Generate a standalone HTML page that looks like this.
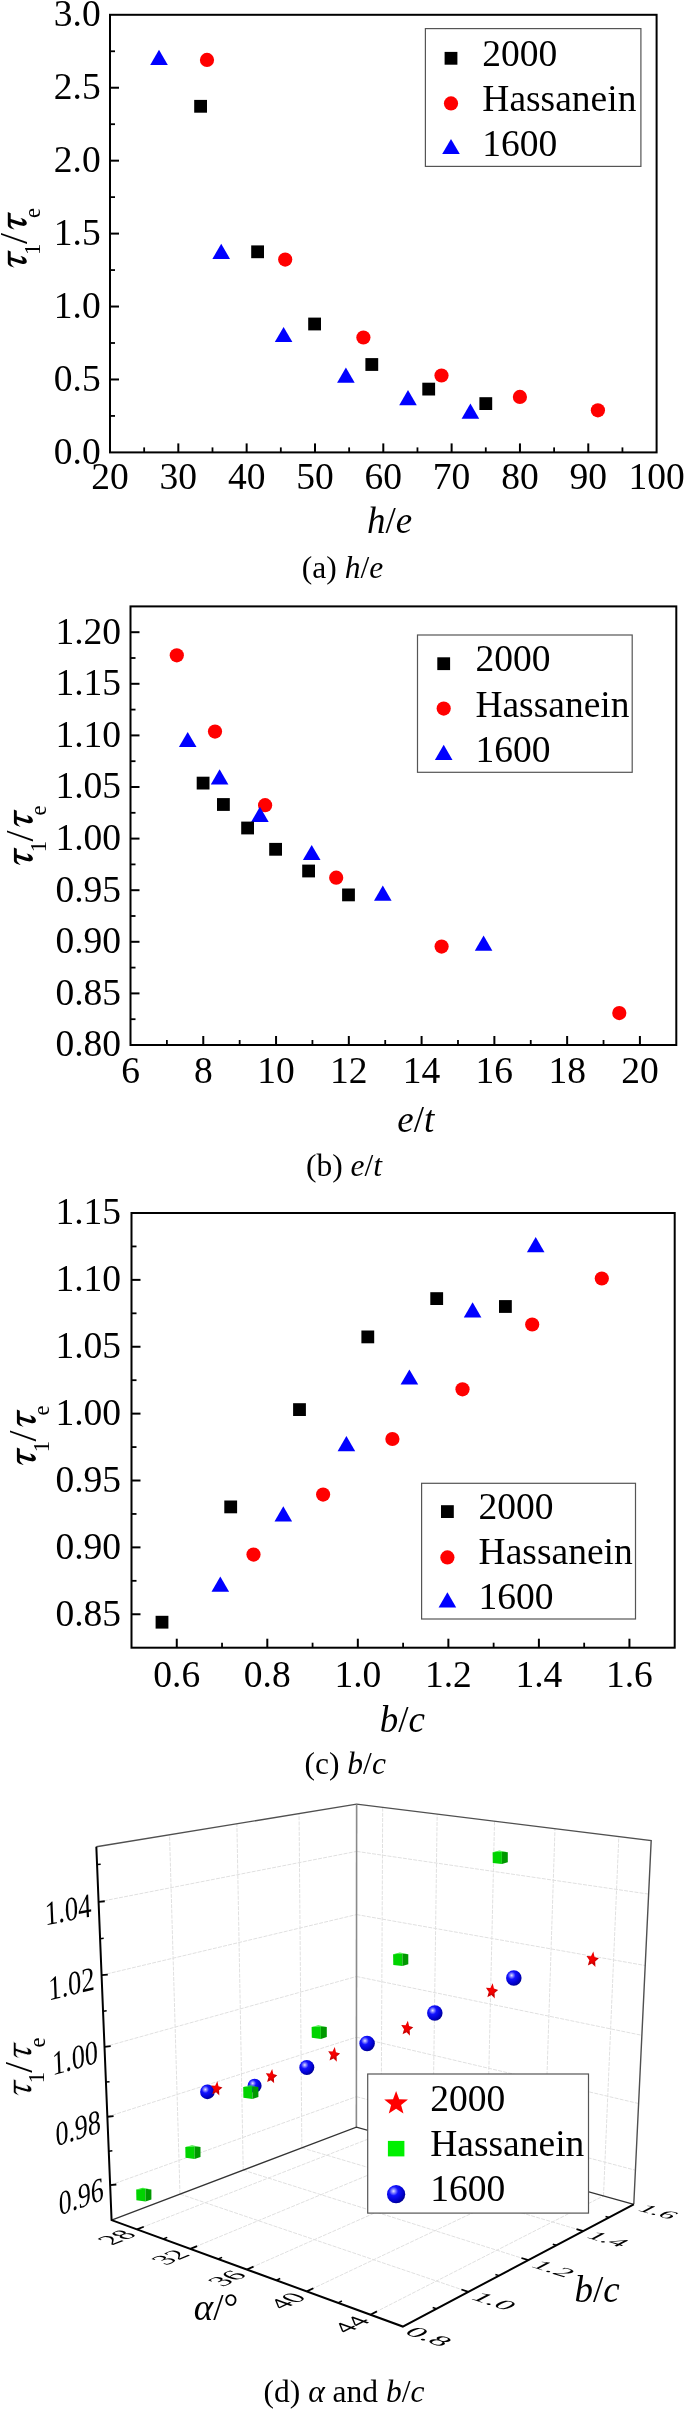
<!DOCTYPE html>
<html><head><meta charset="utf-8"><style>
html,body{margin:0;padding:0;background:#fff;}
body{width:685px;height:2411px;overflow:hidden;font-family:"Liberation Serif",serif;}
svg{display:block;will-change:transform;}
text{font-family:"Liberation Serif",serif;fill:#000;}
</style></head><body>
<svg width="685" height="2411" viewBox="0 0 685 2411" font-family="Liberation Serif, serif"><defs>
<radialGradient id="sph" cx="0.36" cy="0.34" r="0.78" fx="0.36" fy="0.33"><stop offset="0" stop-color="#e4e4ff"/><stop offset="0.12" stop-color="#9090ff"/><stop offset="0.32" stop-color="#1212ff"/><stop offset="0.68" stop-color="#0000cc"/><stop offset="1" stop-color="#000070"/></radialGradient>
<radialGradient id="star" cx="0.45" cy="0.4" r="0.6"><stop offset="0" stop-color="#ff0000"/><stop offset="0.5" stop-color="#e80000"/><stop offset="0.75" stop-color="#b80000"/><stop offset="1" stop-color="#ff1010"/></radialGradient>
</defs>
<line x1="178.32" y1="452.4" x2="178.32" y2="443.4" stroke="#000" stroke-width="2" />
<line x1="246.65" y1="452.4" x2="246.65" y2="443.4" stroke="#000" stroke-width="2" />
<line x1="314.98" y1="452.4" x2="314.98" y2="443.4" stroke="#000" stroke-width="2" />
<line x1="383.3" y1="452.4" x2="383.3" y2="443.4" stroke="#000" stroke-width="2" />
<line x1="451.62" y1="452.4" x2="451.62" y2="443.4" stroke="#000" stroke-width="2" />
<line x1="519.95" y1="452.4" x2="519.95" y2="443.4" stroke="#000" stroke-width="2" />
<line x1="588.28" y1="452.4" x2="588.28" y2="443.4" stroke="#000" stroke-width="2" />
<line x1="144.16" y1="452.4" x2="144.16" y2="447.4" stroke="#000" stroke-width="1.8" />
<line x1="212.49" y1="452.4" x2="212.49" y2="447.4" stroke="#000" stroke-width="1.8" />
<line x1="280.81" y1="452.4" x2="280.81" y2="447.4" stroke="#000" stroke-width="1.8" />
<line x1="349.14" y1="452.4" x2="349.14" y2="447.4" stroke="#000" stroke-width="1.8" />
<line x1="417.46" y1="452.4" x2="417.46" y2="447.4" stroke="#000" stroke-width="1.8" />
<line x1="485.79" y1="452.4" x2="485.79" y2="447.4" stroke="#000" stroke-width="1.8" />
<line x1="554.11" y1="452.4" x2="554.11" y2="447.4" stroke="#000" stroke-width="1.8" />
<line x1="622.44" y1="452.4" x2="622.44" y2="447.4" stroke="#000" stroke-width="1.8" />
<line x1="110" y1="379.47" x2="119" y2="379.47" stroke="#000" stroke-width="2" />
<line x1="110" y1="306.53" x2="119" y2="306.53" stroke="#000" stroke-width="2" />
<line x1="110" y1="233.6" x2="119" y2="233.6" stroke="#000" stroke-width="2" />
<line x1="110" y1="160.67" x2="119" y2="160.67" stroke="#000" stroke-width="2" />
<line x1="110" y1="87.73" x2="119" y2="87.73" stroke="#000" stroke-width="2" />
<line x1="110" y1="415.93" x2="115" y2="415.93" stroke="#000" stroke-width="1.8" />
<line x1="110" y1="343" x2="115" y2="343" stroke="#000" stroke-width="1.8" />
<line x1="110" y1="270.07" x2="115" y2="270.07" stroke="#000" stroke-width="1.8" />
<line x1="110" y1="197.13" x2="115" y2="197.13" stroke="#000" stroke-width="1.8" />
<line x1="110" y1="124.2" x2="115" y2="124.2" stroke="#000" stroke-width="1.8" />
<line x1="110" y1="51.27" x2="115" y2="51.27" stroke="#000" stroke-width="1.8" />
<rect x="110" y="14.8" width="546.6" height="437.6" fill="none" stroke="#000" stroke-width="2"/>
<text x="110" y="489.2" font-size="37.5" text-anchor="middle"  >20</text>
<text x="178.32" y="489.2" font-size="37.5" text-anchor="middle"  >30</text>
<text x="246.65" y="489.2" font-size="37.5" text-anchor="middle"  >40</text>
<text x="314.98" y="489.2" font-size="37.5" text-anchor="middle"  >50</text>
<text x="383.3" y="489.2" font-size="37.5" text-anchor="middle"  >60</text>
<text x="451.62" y="489.2" font-size="37.5" text-anchor="middle"  >70</text>
<text x="519.95" y="489.2" font-size="37.5" text-anchor="middle"  >80</text>
<text x="588.28" y="489.2" font-size="37.5" text-anchor="middle"  >90</text>
<text x="656.6" y="489.2" font-size="37.5" text-anchor="middle"  >100</text>
<text x="100.7" y="463.8" font-size="37.5" text-anchor="end"  >0.0</text>
<text x="100.7" y="390.87" font-size="37.5" text-anchor="end"  >0.5</text>
<text x="100.7" y="317.93" font-size="37.5" text-anchor="end"  >1.0</text>
<text x="100.7" y="245" font-size="37.5" text-anchor="end"  >1.5</text>
<text x="100.7" y="172.07" font-size="37.5" text-anchor="end"  >2.0</text>
<text x="100.7" y="99.13" font-size="37.5" text-anchor="end"  >2.5</text>
<text x="100.7" y="26.2" font-size="37.5" text-anchor="end"  >3.0</text>
<polygon points="150.2,64.9 167.8,64.9 159,49.7" fill="#00f"/>
<polygon points="212.4,258.9 230,258.9 221.2,243.7" fill="#00f"/>
<polygon points="274.8,342.1 292.4,342.1 283.6,326.9" fill="#00f"/>
<polygon points="337.1,382.7 354.7,382.7 345.9,367.5" fill="#00f"/>
<polygon points="399.2,405.2 416.8,405.2 408,390" fill="#00f"/>
<polygon points="461.6,418.7 479.2,418.7 470.4,403.5" fill="#00f"/>
<rect x="194.2" y="99.9" width="12.8" height="12.8" fill="#000"/>
<rect x="251.2" y="245.4" width="12.8" height="12.8" fill="#000"/>
<rect x="308.2" y="317.6" width="12.8" height="12.8" fill="#000"/>
<rect x="365.4" y="358.1" width="12.8" height="12.8" fill="#000"/>
<rect x="422.3" y="382.7" width="12.8" height="12.8" fill="#000"/>
<rect x="479.4" y="397.2" width="12.8" height="12.8" fill="#000"/>
<circle cx="207" cy="59.9" r="7.1" fill="#f00"/>
<circle cx="285.2" cy="259.6" r="7.1" fill="#f00"/>
<circle cx="363.4" cy="337.5" r="7.1" fill="#f00"/>
<circle cx="441.5" cy="375.5" r="7.1" fill="#f00"/>
<circle cx="519.9" cy="396.9" r="7.1" fill="#f00"/>
<circle cx="597.9" cy="410.3" r="7.1" fill="#f00"/>
<rect x="425.4" y="28.6" width="215.5" height="137.8" fill="#fff" stroke="#555" stroke-width="1.2"/>
<rect x="444.6" y="51.9" width="12.8" height="12.8" fill="#000"/>
<circle cx="451" cy="103.4" r="7.1" fill="#f00"/>
<polygon points="442.2,154.1 459.8,154.1 451,138.9" fill="#00f"/>
<text x="482.3" y="65.5" font-size="37.5" text-anchor="start"  >2000</text>
<text x="482.3" y="110.7" font-size="37.5" text-anchor="start"  >Hassanein</text>
<text x="482.3" y="155.8" font-size="37.5" text-anchor="start"  >1600</text>
<text x="389.5" y="532.9" font-size="37" text-anchor="middle"><tspan font-style="italic">h</tspan>/<tspan font-style="italic">e</tspan></text>
<text x="342.5" y="577.5" font-size="31.5" text-anchor="middle">(a) <tspan font-style="italic">h</tspan>/<tspan font-style="italic">e</tspan></text>
<g transform="translate(27.20,267.50) rotate(-90)"><path transform="translate(-0.30,0) scale(1.0000)" d="M17.6,-19.4 L16.4,-16.5 L10.6,-16.5 C9.6,-13 8.2,-8.5 7.1,-4.6 C8.6,-4.4 10.6,-5.3 11.8,-6.8 C11.6,-4.2 9.6,-0.4 6.6,-0.4 C4.7,-0.4 3.5,-2 3.9,-4.6 C4.6,-8.5 6.1,-12.8 7.5,-16.5 L4.6,-16.5 C3.2,-16.2 1.8,-14.6 0.4,-12.6 C0.9,-15.8 2.4,-19.4 4.8,-19.4 Z"/><text x="12.60" y="12.50" font-size="22.5">1</text><text x="23.50" y="0" font-size="40">/</text><path transform="translate(37.80,0) scale(1.0000)" d="M17.6,-19.4 L16.4,-16.5 L10.6,-16.5 C9.6,-13 8.2,-8.5 7.1,-4.6 C8.6,-4.4 10.6,-5.3 11.8,-6.8 C11.6,-4.2 9.6,-0.4 6.6,-0.4 C4.7,-0.4 3.5,-2 3.9,-4.6 C4.6,-8.5 6.1,-12.8 7.5,-16.5 L4.6,-16.5 C3.2,-16.2 1.8,-14.6 0.4,-12.6 C0.9,-15.8 2.4,-19.4 4.8,-19.4 Z"/><text x="49.40" y="13.00" font-size="22.5">e</text></g>
<line x1="203.27" y1="1045" x2="203.27" y2="1036" stroke="#000" stroke-width="2" />
<line x1="276.05" y1="1045" x2="276.05" y2="1036" stroke="#000" stroke-width="2" />
<line x1="348.82" y1="1045" x2="348.82" y2="1036" stroke="#000" stroke-width="2" />
<line x1="421.59" y1="1045" x2="421.59" y2="1036" stroke="#000" stroke-width="2" />
<line x1="494.37" y1="1045" x2="494.37" y2="1036" stroke="#000" stroke-width="2" />
<line x1="567.14" y1="1045" x2="567.14" y2="1036" stroke="#000" stroke-width="2" />
<line x1="639.91" y1="1045" x2="639.91" y2="1036" stroke="#000" stroke-width="2" />
<line x1="166.89" y1="1045" x2="166.89" y2="1040" stroke="#000" stroke-width="1.8" />
<line x1="239.66" y1="1045" x2="239.66" y2="1040" stroke="#000" stroke-width="1.8" />
<line x1="312.43" y1="1045" x2="312.43" y2="1040" stroke="#000" stroke-width="1.8" />
<line x1="385.21" y1="1045" x2="385.21" y2="1040" stroke="#000" stroke-width="1.8" />
<line x1="457.98" y1="1045" x2="457.98" y2="1040" stroke="#000" stroke-width="1.8" />
<line x1="530.75" y1="1045" x2="530.75" y2="1040" stroke="#000" stroke-width="1.8" />
<line x1="603.53" y1="1045" x2="603.53" y2="1040" stroke="#000" stroke-width="1.8" />
<line x1="130.5" y1="993.4" x2="139.5" y2="993.4" stroke="#000" stroke-width="2" />
<line x1="130.5" y1="941.8" x2="139.5" y2="941.8" stroke="#000" stroke-width="2" />
<line x1="130.5" y1="890.2" x2="139.5" y2="890.2" stroke="#000" stroke-width="2" />
<line x1="130.5" y1="838.6" x2="139.5" y2="838.6" stroke="#000" stroke-width="2" />
<line x1="130.5" y1="787" x2="139.5" y2="787" stroke="#000" stroke-width="2" />
<line x1="130.5" y1="735.4" x2="139.5" y2="735.4" stroke="#000" stroke-width="2" />
<line x1="130.5" y1="683.8" x2="139.5" y2="683.8" stroke="#000" stroke-width="2" />
<line x1="130.5" y1="632.2" x2="139.5" y2="632.2" stroke="#000" stroke-width="2" />
<line x1="130.5" y1="1019.2" x2="135.5" y2="1019.2" stroke="#000" stroke-width="1.8" />
<line x1="130.5" y1="967.6" x2="135.5" y2="967.6" stroke="#000" stroke-width="1.8" />
<line x1="130.5" y1="916" x2="135.5" y2="916" stroke="#000" stroke-width="1.8" />
<line x1="130.5" y1="864.4" x2="135.5" y2="864.4" stroke="#000" stroke-width="1.8" />
<line x1="130.5" y1="812.8" x2="135.5" y2="812.8" stroke="#000" stroke-width="1.8" />
<line x1="130.5" y1="761.2" x2="135.5" y2="761.2" stroke="#000" stroke-width="1.8" />
<line x1="130.5" y1="709.6" x2="135.5" y2="709.6" stroke="#000" stroke-width="1.8" />
<line x1="130.5" y1="658" x2="135.5" y2="658" stroke="#000" stroke-width="1.8" />
<rect x="130.5" y="606.4" width="545.8" height="438.6" fill="none" stroke="#000" stroke-width="2"/>
<text x="130.5" y="1083.4" font-size="37.5" text-anchor="middle"  >6</text>
<text x="203.27" y="1083.4" font-size="37.5" text-anchor="middle"  >8</text>
<text x="276.05" y="1083.4" font-size="37.5" text-anchor="middle"  >10</text>
<text x="348.82" y="1083.4" font-size="37.5" text-anchor="middle"  >12</text>
<text x="421.59" y="1083.4" font-size="37.5" text-anchor="middle"  >14</text>
<text x="494.37" y="1083.4" font-size="37.5" text-anchor="middle"  >16</text>
<text x="567.14" y="1083.4" font-size="37.5" text-anchor="middle"  >18</text>
<text x="639.91" y="1083.4" font-size="37.5" text-anchor="middle"  >20</text>
<text x="121.1" y="1056.4" font-size="37.5" text-anchor="end"  >0.80</text>
<text x="121.1" y="1004.8" font-size="37.5" text-anchor="end"  >0.85</text>
<text x="121.1" y="953.2" font-size="37.5" text-anchor="end"  >0.90</text>
<text x="121.1" y="901.6" font-size="37.5" text-anchor="end"  >0.95</text>
<text x="121.1" y="850" font-size="37.5" text-anchor="end"  >1.00</text>
<text x="121.1" y="798.4" font-size="37.5" text-anchor="end"  >1.05</text>
<text x="121.1" y="746.8" font-size="37.5" text-anchor="end"  >1.10</text>
<text x="121.1" y="695.2" font-size="37.5" text-anchor="end"  >1.15</text>
<text x="121.1" y="643.6" font-size="37.5" text-anchor="end"  >1.20</text>
<circle cx="176.8" cy="655.3" r="7.1" fill="#f00"/>
<circle cx="215" cy="731.6" r="7.1" fill="#f00"/>
<circle cx="265.1" cy="805.2" r="7.1" fill="#f00"/>
<circle cx="336.2" cy="877.7" r="7.1" fill="#f00"/>
<circle cx="441.6" cy="946.6" r="7.1" fill="#f00"/>
<circle cx="619.3" cy="1013.1" r="7.1" fill="#f00"/>
<polygon points="178.9,747.1 196.5,747.1 187.7,731.9" fill="#00f"/>
<polygon points="210.8,784.4 228.4,784.4 219.6,769.2" fill="#00f"/>
<polygon points="251.1,821.9 268.7,821.9 259.9,806.7" fill="#00f"/>
<polygon points="302.9,860.1 320.5,860.1 311.7,844.9" fill="#00f"/>
<polygon points="374,900.7 391.6,900.7 382.8,885.5" fill="#00f"/>
<polygon points="474.8,950.8 492.4,950.8 483.6,935.6" fill="#00f"/>
<rect x="196.7" y="776.7" width="12.8" height="12.8" fill="#000"/>
<rect x="217" y="798.1" width="12.8" height="12.8" fill="#000"/>
<rect x="241.2" y="821.6" width="12.8" height="12.8" fill="#000"/>
<rect x="269.2" y="842.9" width="12.8" height="12.8" fill="#000"/>
<rect x="302.2" y="864.6" width="12.8" height="12.8" fill="#000"/>
<rect x="342.1" y="888.5" width="12.8" height="12.8" fill="#000"/>
<rect x="417.5" y="635" width="214.7" height="137.3" fill="#fff" stroke="#555" stroke-width="1.2"/>
<rect x="437.3" y="657.3" width="12.8" height="12.8" fill="#000"/>
<circle cx="443.7" cy="708.6" r="7.1" fill="#f00"/>
<polygon points="434.9,759.9 452.5,759.9 443.7,744.7" fill="#00f"/>
<text x="475.4" y="671.2" font-size="37.5" text-anchor="start"  >2000</text>
<text x="475.4" y="716.5" font-size="37.5" text-anchor="start"  >Hassanein</text>
<text x="475.4" y="761.5" font-size="37.5" text-anchor="start"  >1600</text>
<text x="415.8" y="1132" font-size="37" text-anchor="middle"><tspan font-style="italic">e</tspan>/<tspan font-style="italic">t</tspan></text>
<text x="344" y="1175.8" font-size="31.5" text-anchor="middle">(b) <tspan font-style="italic">e</tspan>/<tspan font-style="italic">t</tspan></text>
<g transform="translate(33.30,864.90) rotate(-90)"><path transform="translate(-0.30,0) scale(1.0000)" d="M17.6,-19.4 L16.4,-16.5 L10.6,-16.5 C9.6,-13 8.2,-8.5 7.1,-4.6 C8.6,-4.4 10.6,-5.3 11.8,-6.8 C11.6,-4.2 9.6,-0.4 6.6,-0.4 C4.7,-0.4 3.5,-2 3.9,-4.6 C4.6,-8.5 6.1,-12.8 7.5,-16.5 L4.6,-16.5 C3.2,-16.2 1.8,-14.6 0.4,-12.6 C0.9,-15.8 2.4,-19.4 4.8,-19.4 Z"/><text x="12.60" y="12.50" font-size="22.5">1</text><text x="23.50" y="0" font-size="40">/</text><path transform="translate(37.80,0) scale(1.0000)" d="M17.6,-19.4 L16.4,-16.5 L10.6,-16.5 C9.6,-13 8.2,-8.5 7.1,-4.6 C8.6,-4.4 10.6,-5.3 11.8,-6.8 C11.6,-4.2 9.6,-0.4 6.6,-0.4 C4.7,-0.4 3.5,-2 3.9,-4.6 C4.6,-8.5 6.1,-12.8 7.5,-16.5 L4.6,-16.5 C3.2,-16.2 1.8,-14.6 0.4,-12.6 C0.9,-15.8 2.4,-19.4 4.8,-19.4 Z"/><text x="49.40" y="13.00" font-size="22.5">e</text></g>
<line x1="176.77" y1="1647.7" x2="176.77" y2="1638.7" stroke="#000" stroke-width="2" />
<line x1="267.3" y1="1647.7" x2="267.3" y2="1638.7" stroke="#000" stroke-width="2" />
<line x1="357.83" y1="1647.7" x2="357.83" y2="1638.7" stroke="#000" stroke-width="2" />
<line x1="448.37" y1="1647.7" x2="448.37" y2="1638.7" stroke="#000" stroke-width="2" />
<line x1="538.9" y1="1647.7" x2="538.9" y2="1638.7" stroke="#000" stroke-width="2" />
<line x1="629.43" y1="1647.7" x2="629.43" y2="1638.7" stroke="#000" stroke-width="2" />
<line x1="222.03" y1="1647.7" x2="222.03" y2="1642.7" stroke="#000" stroke-width="1.8" />
<line x1="312.57" y1="1647.7" x2="312.57" y2="1642.7" stroke="#000" stroke-width="1.8" />
<line x1="403.1" y1="1647.7" x2="403.1" y2="1642.7" stroke="#000" stroke-width="1.8" />
<line x1="493.63" y1="1647.7" x2="493.63" y2="1642.7" stroke="#000" stroke-width="1.8" />
<line x1="584.17" y1="1647.7" x2="584.17" y2="1642.7" stroke="#000" stroke-width="1.8" />
<line x1="131.5" y1="1614.26" x2="140.5" y2="1614.26" stroke="#000" stroke-width="2" />
<line x1="131.5" y1="1547.38" x2="140.5" y2="1547.38" stroke="#000" stroke-width="2" />
<line x1="131.5" y1="1480.51" x2="140.5" y2="1480.51" stroke="#000" stroke-width="2" />
<line x1="131.5" y1="1413.63" x2="140.5" y2="1413.63" stroke="#000" stroke-width="2" />
<line x1="131.5" y1="1346.75" x2="140.5" y2="1346.75" stroke="#000" stroke-width="2" />
<line x1="131.5" y1="1279.88" x2="140.5" y2="1279.88" stroke="#000" stroke-width="2" />
<line x1="131.5" y1="1580.82" x2="136.5" y2="1580.82" stroke="#000" stroke-width="1.8" />
<line x1="131.5" y1="1513.95" x2="136.5" y2="1513.95" stroke="#000" stroke-width="1.8" />
<line x1="131.5" y1="1447.07" x2="136.5" y2="1447.07" stroke="#000" stroke-width="1.8" />
<line x1="131.5" y1="1380.19" x2="136.5" y2="1380.19" stroke="#000" stroke-width="1.8" />
<line x1="131.5" y1="1313.32" x2="136.5" y2="1313.32" stroke="#000" stroke-width="1.8" />
<line x1="131.5" y1="1246.44" x2="136.5" y2="1246.44" stroke="#000" stroke-width="1.8" />
<rect x="131.5" y="1213" width="543.2" height="434.7" fill="none" stroke="#000" stroke-width="2"/>
<text x="176.77" y="1686.5" font-size="37.5" text-anchor="middle"  >0.6</text>
<text x="267.3" y="1686.5" font-size="37.5" text-anchor="middle"  >0.8</text>
<text x="357.83" y="1686.5" font-size="37.5" text-anchor="middle"  >1.0</text>
<text x="448.37" y="1686.5" font-size="37.5" text-anchor="middle"  >1.2</text>
<text x="538.9" y="1686.5" font-size="37.5" text-anchor="middle"  >1.4</text>
<text x="629.43" y="1686.5" font-size="37.5" text-anchor="middle"  >1.6</text>
<text x="121.1" y="1625.66" font-size="37.5" text-anchor="end"  >0.85</text>
<text x="121.1" y="1558.78" font-size="37.5" text-anchor="end"  >0.90</text>
<text x="121.1" y="1491.91" font-size="37.5" text-anchor="end"  >0.95</text>
<text x="121.1" y="1425.03" font-size="37.5" text-anchor="end"  >1.00</text>
<text x="121.1" y="1358.15" font-size="37.5" text-anchor="end"  >1.05</text>
<text x="121.1" y="1291.28" font-size="37.5" text-anchor="end"  >1.10</text>
<text x="121.1" y="1224.4" font-size="37.5" text-anchor="end"  >1.15</text>
<rect x="155.6" y="1615.8" width="12.8" height="12.8" fill="#000"/>
<rect x="224.3" y="1500.5" width="12.8" height="12.8" fill="#000"/>
<rect x="293.1" y="1403.2" width="12.8" height="12.8" fill="#000"/>
<rect x="361.4" y="1330.5" width="12.8" height="12.8" fill="#000"/>
<rect x="430.3" y="1292.2" width="12.8" height="12.8" fill="#000"/>
<rect x="499" y="1300.1" width="12.8" height="12.8" fill="#000"/>
<polygon points="211.5,1591.7 229.1,1591.7 220.3,1576.5" fill="#00f"/>
<polygon points="274.5,1521.5 292.1,1521.5 283.3,1506.3" fill="#00f"/>
<polygon points="337.6,1451.2 355.2,1451.2 346.4,1436" fill="#00f"/>
<polygon points="400.6,1384.6 418.2,1384.6 409.4,1369.4" fill="#00f"/>
<polygon points="463.8,1317.4 481.4,1317.4 472.6,1302.2" fill="#00f"/>
<polygon points="526.9,1252.3 544.5,1252.3 535.7,1237.1" fill="#00f"/>
<circle cx="253.5" cy="1554.6" r="7.1" fill="#f00"/>
<circle cx="323.1" cy="1494.6" r="7.1" fill="#f00"/>
<circle cx="392.4" cy="1439" r="7.1" fill="#f00"/>
<circle cx="462.5" cy="1389.3" r="7.1" fill="#f00"/>
<circle cx="532.2" cy="1324.5" r="7.1" fill="#f00"/>
<circle cx="601.8" cy="1278.5" r="7.1" fill="#f00"/>
<rect x="421.6" y="1483.3" width="213.9" height="135.7" fill="#fff" stroke="#555" stroke-width="1.2"/>
<rect x="441" y="1505.2" width="12.8" height="12.8" fill="#000"/>
<circle cx="447.4" cy="1557.4" r="7.1" fill="#f00"/>
<polygon points="438.6,1607.4 456.2,1607.4 447.4,1592.2" fill="#00f"/>
<text x="478.6" y="1519.1" font-size="37.5" text-anchor="start"  >2000</text>
<text x="478.6" y="1564.4" font-size="37.5" text-anchor="start"  >Hassanein</text>
<text x="478.6" y="1608.5" font-size="37.5" text-anchor="start"  >1600</text>
<text x="402.4" y="1732.3" font-size="37" text-anchor="middle"><tspan font-style="italic">b</tspan>/<tspan font-style="italic">c</tspan></text>
<text x="345.2" y="1774.3" font-size="31.5" text-anchor="middle">(c) <tspan font-style="italic">b</tspan>/<tspan font-style="italic">c</tspan></text>
<g transform="translate(36.30,1464.90) rotate(-90)"><path transform="translate(-0.30,0) scale(1.0000)" d="M17.6,-19.4 L16.4,-16.5 L10.6,-16.5 C9.6,-13 8.2,-8.5 7.1,-4.6 C8.6,-4.4 10.6,-5.3 11.8,-6.8 C11.6,-4.2 9.6,-0.4 6.6,-0.4 C4.7,-0.4 3.5,-2 3.9,-4.6 C4.6,-8.5 6.1,-12.8 7.5,-16.5 L4.6,-16.5 C3.2,-16.2 1.8,-14.6 0.4,-12.6 C0.9,-15.8 2.4,-19.4 4.8,-19.4 Z"/><text x="12.60" y="12.50" font-size="22.5">1</text><text x="23.50" y="0" font-size="40">/</text><path transform="translate(37.80,0) scale(1.0000)" d="M17.6,-19.4 L16.4,-16.5 L10.6,-16.5 C9.6,-13 8.2,-8.5 7.1,-4.6 C8.6,-4.4 10.6,-5.3 11.8,-6.8 C11.6,-4.2 9.6,-0.4 6.6,-0.4 C4.7,-0.4 3.5,-2 3.9,-4.6 C4.6,-8.5 6.1,-12.8 7.5,-16.5 L4.6,-16.5 C3.2,-16.2 1.8,-14.6 0.4,-12.6 C0.9,-15.8 2.4,-19.4 4.8,-19.4 Z"/><text x="49.40" y="13.00" font-size="22.5">e</text></g>
<polyline points="179.98,2194.1 169.54,1834.81" fill="none" stroke="#e0e0e0" stroke-width="1" stroke-dasharray="4,1.2"/>
<polyline points="243.22,2170.1 236.89,1823.77" fill="none" stroke="#e0e0e0" stroke-width="1" stroke-dasharray="4,1.2"/>
<polyline points="301.86,2147.84 299.06,1813.57" fill="none" stroke="#e0e0e0" stroke-width="1" stroke-dasharray="4,1.2"/>
<polyline points="110.15,2185.14 356.4,2096.67" fill="none" stroke="#e0e0e0" stroke-width="1" stroke-dasharray="4,1.2"/>
<polyline points="356.4,2096.67 635.43,2170.23" fill="none" stroke="#e0e0e0" stroke-width="1" stroke-dasharray="4,1.2"/>
<polyline points="107.36,2116.77 356.45,2037.18" fill="none" stroke="#e0e0e0" stroke-width="1" stroke-dasharray="4,1.2"/>
<polyline points="356.45,2037.18 638.62,2103.53" fill="none" stroke="#e0e0e0" stroke-width="1" stroke-dasharray="4,1.2"/>
<polyline points="104.5,2046.8 356.49,1976.49" fill="none" stroke="#e0e0e0" stroke-width="1" stroke-dasharray="4,1.2"/>
<polyline points="356.49,1976.49 641.88,2035.31" fill="none" stroke="#e0e0e0" stroke-width="1" stroke-dasharray="4,1.2"/>
<polyline points="101.58,1975.18 356.54,1914.58" fill="none" stroke="#e0e0e0" stroke-width="1" stroke-dasharray="4,1.2"/>
<polyline points="356.54,1914.58 645.22,1965.52" fill="none" stroke="#e0e0e0" stroke-width="1" stroke-dasharray="4,1.2"/>
<polyline points="98.58,1901.85 356.59,1851.4" fill="none" stroke="#e0e0e0" stroke-width="1" stroke-dasharray="4,1.2"/>
<polyline points="356.59,1851.4 648.63,1894.1" fill="none" stroke="#e0e0e0" stroke-width="1" stroke-dasharray="4,1.2"/>
<polyline points="381.09,2134.02 382.7,1807.36" fill="none" stroke="#e0e0e0" stroke-width="1" stroke-dasharray="4,1.2"/>
<polyline points="137.01,2229.37 381.09,2134.02" fill="none" stroke="#e0e0e0" stroke-width="1" stroke-dasharray="4,1.2"/>
<polyline points="432.63,2148.36 437.17,1814.09" fill="none" stroke="#e0e0e0" stroke-width="1" stroke-dasharray="4,1.2"/>
<polyline points="190.36,2248.87 432.63,2148.36" fill="none" stroke="#e0e0e0" stroke-width="1" stroke-dasharray="4,1.2"/>
<polyline points="486.74,2163.41 494.52,1821.18" fill="none" stroke="#e0e0e0" stroke-width="1" stroke-dasharray="4,1.2"/>
<polyline points="246.85,2269.52 486.74,2163.41" fill="none" stroke="#e0e0e0" stroke-width="1" stroke-dasharray="4,1.2"/>
<polyline points="543.62,2179.24 554.98,1828.65" fill="none" stroke="#e0e0e0" stroke-width="1" stroke-dasharray="4,1.2"/>
<polyline points="306.76,2291.42 543.62,2179.24" fill="none" stroke="#e0e0e0" stroke-width="1" stroke-dasharray="4,1.2"/>
<polyline points="603.5,2195.9 618.82,1836.54" fill="none" stroke="#e0e0e0" stroke-width="1" stroke-dasharray="4,1.2"/>
<polyline points="370.4,2314.68 603.5,2195.9" fill="none" stroke="#e0e0e0" stroke-width="1" stroke-dasharray="4,1.2"/>
<polyline points="179.98,2194.1 468.4,2291.84" fill="none" stroke="#e0e0e0" stroke-width="1" stroke-dasharray="4,1.2"/>
<polyline points="243.22,2170.1 528.3,2260.15" fill="none" stroke="#e0e0e0" stroke-width="1" stroke-dasharray="4,1.2"/>
<polyline points="301.86,2147.84 583.23,2231.08" fill="none" stroke="#e0e0e0" stroke-width="1" stroke-dasharray="4,1.2"/>
<polyline points="96.33,1846.81 356.63,1804.14 651.19,1840.54 633.79,2204.33" fill="none" stroke="#505050" stroke-width="1.4" />
<polyline points="356.63,1804.14 356.38,2127.14" fill="none" stroke="#8a8a8a" stroke-width="1.6" />
<polyline points="111.58,2220.07 356.38,2127.14 633.79,2204.33" fill="none" stroke="#333" stroke-width="1.2" />
<polyline points="96.33,1846.81 111.58,2220.07 402.84,2326.54 633.79,2204.33" fill="none" stroke="#000" stroke-width="2" stroke-linejoin="miter"/>
<polyline points="110.15,2185.14 116.35,2184.52" fill="none" stroke="#000" stroke-width="1.8" />
<polyline points="108.76,2151.15 112.36,2150.79" fill="none" stroke="#000" stroke-width="1.5" />
<polyline points="107.36,2116.77 113.56,2116.15" fill="none" stroke="#000" stroke-width="1.8" />
<polyline points="105.94,2081.99 109.54,2081.63" fill="none" stroke="#000" stroke-width="1.5" />
<polyline points="104.5,2046.8 110.7,2046.18" fill="none" stroke="#000" stroke-width="1.8" />
<polyline points="103.05,2011.2 106.65,2010.84" fill="none" stroke="#000" stroke-width="1.5" />
<polyline points="101.58,1975.18 107.78,1974.56" fill="none" stroke="#000" stroke-width="1.8" />
<polyline points="100.09,1938.73 103.69,1938.37" fill="none" stroke="#000" stroke-width="1.5" />
<polyline points="98.58,1901.85 104.78,1901.23" fill="none" stroke="#000" stroke-width="1.8" />
<polyline points="97.06,1864.52 100.66,1864.16" fill="none" stroke="#000" stroke-width="1.5" />
<polyline points="137.01,2229.37 143.74,2226.74" fill="none" stroke="#000" stroke-width="1.8" />
<polyline points="163.31,2238.98 167.21,2237.41" fill="none" stroke="#000" stroke-width="1.5" />
<polyline points="190.36,2248.87 197.07,2246.09" fill="none" stroke="#000" stroke-width="1.8" />
<polyline points="218.2,2259.04 222.08,2257.38" fill="none" stroke="#000" stroke-width="1.5" />
<polyline points="246.85,2269.52 253.52,2266.57" fill="none" stroke="#000" stroke-width="1.8" />
<polyline points="276.36,2280.3 280.21,2278.54" fill="none" stroke="#000" stroke-width="1.5" />
<polyline points="306.76,2291.42 313.37,2288.28" fill="none" stroke="#000" stroke-width="1.8" />
<polyline points="338.09,2302.87 341.91,2301" fill="none" stroke="#000" stroke-width="1.5" />
<polyline points="370.4,2314.68 376.94,2311.35" fill="none" stroke="#000" stroke-width="1.8" />
<polyline points="436.38,2308.79 432.69,2307.49" fill="none" stroke="#000" stroke-width="1.5" />
<polyline points="468.4,2291.84 461.43,2289.48" fill="none" stroke="#000" stroke-width="1.8" />
<polyline points="499.01,2275.65 495.38,2274.46" fill="none" stroke="#000" stroke-width="1.5" />
<polyline points="528.3,2260.15 521.45,2257.99" fill="none" stroke="#000" stroke-width="1.8" />
<polyline points="556.35,2245.31 552.78,2244.22" fill="none" stroke="#000" stroke-width="1.5" />
<polyline points="583.23,2231.08 576.5,2229.09" fill="none" stroke="#000" stroke-width="1.8" />
<polyline points="609.03,2217.43 605.53,2216.43" fill="none" stroke="#000" stroke-width="1.5" />
<text transform="matrix(0.7529,-0.2705,0.0408,0.9992,81.65,2207.64)" font-size="34" text-anchor="middle" >0.96</text>
<text transform="matrix(0.7620,-0.2435,0.0408,0.9992,78.56,2139.27)" font-size="34" text-anchor="middle" >0.98</text>
<text transform="matrix(0.7706,-0.2150,0.0408,0.9992,75.40,2069.00)" font-size="34" text-anchor="middle" >1.00</text>
<text transform="matrix(0.7783,-0.1850,0.0408,0.9992,71.88,1994.98)" font-size="34" text-anchor="middle" >1.02</text>
<text transform="matrix(0.7851,-0.1535,0.0408,0.9992,68.58,1920.85)" font-size="34" text-anchor="middle" >1.04</text>
<text transform="matrix(0.9315,-0.3639,0.8923,0.3262,125.06,2240.35)" font-size="28" text-anchor="middle" >28</text>
<text transform="matrix(0.9237,-0.3832,0.8923,0.3262,178.56,2260.24)" font-size="28" text-anchor="middle" >32</text>
<text transform="matrix(0.9145,-0.4045,0.8923,0.3262,235.24,2281.32)" font-size="28" text-anchor="middle" >36</text>
<text transform="matrix(0.9038,-0.4280,0.8923,0.3262,295.36,2303.68)" font-size="28" text-anchor="middle" >40</text>
<text transform="matrix(0.8910,-0.4540,0.8923,0.3262,359.26,2327.47)" font-size="28" text-anchor="middle" >44</text>
<text transform="matrix(0.9392,0.3433,-0.6010,0.3180,422.12,2340.14)" font-size="33" text-anchor="middle" >0.8</text>
<text transform="matrix(0.9092,0.3081,-0.5770,0.3053,487.64,2304.52)" font-size="33" text-anchor="middle" >1.0</text>
<text transform="matrix(0.8773,0.2771,-0.5530,0.2926,547.45,2271.99)" font-size="33" text-anchor="middle" >1.2</text>
<text transform="matrix(0.8438,0.2497,-0.5289,0.2799,602.26,2242.16)" font-size="33" text-anchor="middle" >1.4</text>
<text transform="matrix(0.8093,0.2252,-0.5049,0.2671,652.67,2214.72)" font-size="33" text-anchor="middle" >1.6</text>
<text x="216" y="2320" font-size="37" text-anchor="middle" ><tspan font-style="italic">α</tspan>/°</text>
<text x="597" y="2302" font-size="37" text-anchor="middle" ><tspan font-style="italic">b</tspan>/<tspan font-style="italic">c</tspan></text>
<g transform="translate(32.20,2095.60) rotate(-90)"><path transform="translate(-0.29,0) scale(0.9750)" d="M17.6,-19.4 L16.4,-16.5 L10.6,-16.5 C9.6,-13 8.2,-8.5 7.1,-4.6 C8.6,-4.4 10.6,-5.3 11.8,-6.8 C11.6,-4.2 9.6,-0.4 6.6,-0.4 C4.7,-0.4 3.5,-2 3.9,-4.6 C4.6,-8.5 6.1,-12.8 7.5,-16.5 L4.6,-16.5 C3.2,-16.2 1.8,-14.6 0.4,-12.6 C0.9,-15.8 2.4,-19.4 4.8,-19.4 Z" stroke="#fff" stroke-width="0.9"/><text x="12.29" y="12.19" font-size="22.5">1</text><text x="22.91" y="0" font-size="39">/</text><path transform="translate(36.85,0) scale(0.9750)" d="M17.6,-19.4 L16.4,-16.5 L10.6,-16.5 C9.6,-13 8.2,-8.5 7.1,-4.6 C8.6,-4.4 10.6,-5.3 11.8,-6.8 C11.6,-4.2 9.6,-0.4 6.6,-0.4 C4.7,-0.4 3.5,-2 3.9,-4.6 C4.6,-8.5 6.1,-12.8 7.5,-16.5 L4.6,-16.5 C3.2,-16.2 1.8,-14.6 0.4,-12.6 C0.9,-15.8 2.4,-19.4 4.8,-19.4 Z" stroke="#fff" stroke-width="0.9"/><text x="48.16" y="12.67" font-size="22.5">e</text></g>
<polygon points="136.2,2189.6 145.5,2188.8 145.5,2201.5 136.4,2200.3" fill="#00d400"/>
<polygon points="145.5,2188.8 151.4,2189.6 151.4,2199.6 145.5,2201.5" fill="#009800"/>
<polygon points="136.2,2189.6 142.9,2187.8 151.4,2189.6 145.5,2188.8" fill="#30ee30"/>
<polygon points="185.3,2147.1 194.6,2146.3 194.6,2159 185.5,2157.8" fill="#00d400"/>
<polygon points="194.6,2146.3 200.5,2147.1 200.5,2157.1 194.6,2159" fill="#009800"/>
<polygon points="185.3,2147.1 192,2145.3 200.5,2147.1 194.6,2146.3" fill="#30ee30"/>
<polygon points="393.1,1954.2 402.4,1953.4 402.4,1966.1 393.3,1964.9" fill="#00d400"/>
<polygon points="402.4,1953.4 408.3,1954.2 408.3,1964.2 402.4,1966.1" fill="#009800"/>
<polygon points="393.1,1954.2 399.8,1952.4 408.3,1954.2 402.4,1953.4" fill="#30ee30"/>
<polygon points="492.6,1852.2 501.9,1851.4 501.9,1864.1 492.8,1862.9" fill="#00d400"/>
<polygon points="501.9,1851.4 507.8,1852.2 507.8,1862.2 501.9,1864.1" fill="#009800"/>
<polygon points="492.6,1852.2 499.3,1850.4 507.8,1852.2 501.9,1851.4" fill="#30ee30"/>
<polygon points="311.6,2027 320.9,2026.2 320.9,2038.9 311.8,2037.7" fill="#00d400"/>
<polygon points="320.9,2026.2 326.8,2027 326.8,2037 320.9,2038.9" fill="#009800"/>
<polygon points="311.6,2027 318.3,2025.2 326.8,2027 320.9,2026.2" fill="#30ee30"/>
<circle cx="207.4" cy="2091.9" r="7.3" fill="url(#sph)"/>
<circle cx="254.6" cy="2085.7" r="7" fill="url(#sph)"/>
<circle cx="306.8" cy="2067.5" r="7.5" fill="url(#sph)"/>
<circle cx="367.1" cy="2043.4" r="7.75" fill="url(#sph)"/>
<circle cx="434.8" cy="2013.1" r="7.75" fill="url(#sph)"/>
<circle cx="513.8" cy="1978" r="7.75" fill="url(#sph)"/>
<polygon points="217.35,2081.27 218.49,2086.23 222.49,2087.48 219.07,2090.37 219.35,2095.51 216.1,2092.34 212.28,2094.27 213.69,2089.42 211.04,2085.47 215.16,2085.65" fill="url(#star)"/>
<polygon points="272.15,2069.07 273.29,2074.03 277.29,2075.28 273.87,2078.17 274.15,2083.31 270.9,2080.14 267.08,2082.07 268.49,2077.22 265.84,2073.27 269.96,2073.45" fill="url(#star)"/>
<polygon points="334.78,2046.98 335.96,2052.13 340.12,2053.43 336.57,2056.43 336.87,2061.78 333.49,2058.48 329.51,2060.48 330.97,2055.44 328.22,2051.34 332.51,2051.52" fill="url(#star)"/>
<polygon points="407.89,2020.68 409.09,2025.9 413.3,2027.21 409.7,2030.25 410,2035.66 406.58,2032.32 402.55,2034.35 404.04,2029.25 401.25,2025.09 405.59,2025.28" fill="url(#star)"/>
<polygon points="492.7,1983.28 493.92,1988.56 498.18,1989.89 494.54,1992.97 494.84,1998.45 491.38,1995.07 487.3,1997.13 488.8,1991.96 485.98,1987.75 490.37,1987.94" fill="url(#star)"/>
<polygon points="593.31,1951.58 594.54,1956.93 598.86,1958.28 595.17,1961.39 595.48,1966.94 591.97,1963.52 587.84,1965.6 589.36,1960.37 586.5,1956.11 590.95,1956.3" fill="url(#star)"/>
<polygon points="243.2,2087.1 252.5,2086.3 252.5,2099 243.4,2097.8" fill="#00d400"/>
<polygon points="252.5,2086.3 258.4,2087.1 258.4,2097.1 252.5,2099" fill="#009800"/>
<polygon points="243.2,2087.1 249.9,2085.3 258.4,2087.1 252.5,2086.3" fill="#30ee30"/>
<rect x="367.7" y="2074" width="220.8" height="139.1" fill="#fff" stroke="#555" stroke-width="1.2"/>
<polygon points="396.1,2090.9 399.19,2099.15 407.99,2099.54 401.09,2105.02 403.45,2113.51 396.1,2108.65 388.75,2113.51 391.11,2105.02 384.21,2099.54 393.01,2099.15" fill="#ff0000"/>
<rect x="387.9" y="2140.9" width="16.5" height="15.5" fill="#00f000"/>
<circle cx="396.1" cy="2194.2" r="9.1" fill="url(#sph)"/>
<text x="430.2" y="2110.8" font-size="37.5" text-anchor="start"  >2000</text>
<text x="430.2" y="2155.7" font-size="37.5" text-anchor="start"  >Hassanein</text>
<text x="430.2" y="2201.2" font-size="37.5" text-anchor="start"  >1600</text>
<text x="344" y="2402" font-size="31.5" text-anchor="middle">(d) <tspan font-style="italic">α</tspan> and <tspan font-style="italic">b</tspan>/<tspan font-style="italic">c</tspan></text></svg>
</body></html>
